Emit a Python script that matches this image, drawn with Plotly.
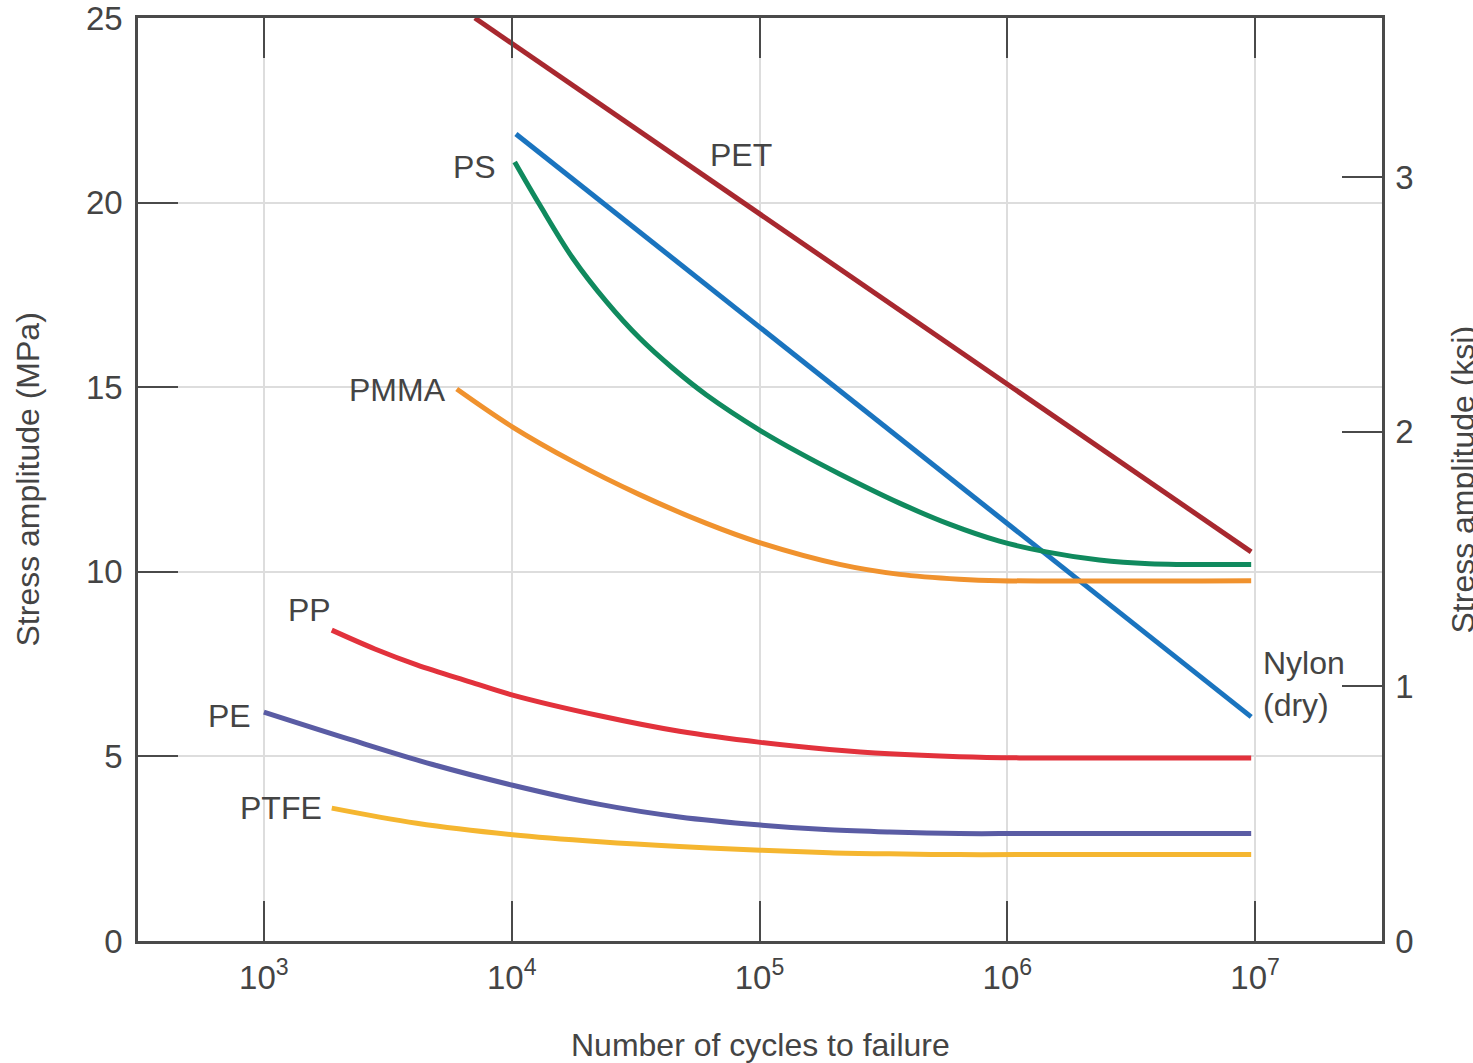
import plotly.graph_objects as go

# ---------------- data (cycles to failure, stress amplitude in MPa) ----------------
pet_n = [7.1e3, 9.64e6]
pet_s = [25.0, 10.54]

nylon_n = [1.04e4, 9.64e6]
nylon_s = [21.86, 6.07]

ps_n = [1.028e4, 1.297e4, 1.762e4, 2.415e4, 3.281e4, 4.457e4, 6.109e4, 1.0e5, 1.449e5,
        2.104e5, 3.673e5, 5.834e5, 9.29e5, 1.435e6, 2.35e6, 3.74e6, 9.64e6]
ps_s = [21.10, 19.94, 18.50, 17.31, 16.33, 15.52, 14.79, 13.84, 13.22,
        12.65, 11.86, 11.29, 10.83, 10.54, 10.32, 10.22, 10.20]

pmma_n = [6.0e3, 1.009e4, 1.762e4, 3.281e4, 6.109e4, 1.0e5, 2.104e5, 3.673e5, 6.4e5,
          9.29e5, 9.64e6]
pmma_s = [14.95, 13.92, 12.99, 12.09, 11.31, 10.79, 10.20, 9.93, 9.80,
          9.76, 9.76]

pp_n = [1.879e3, 2.805e3, 4.14e3, 6.78e3, 1.009e4, 2.265e4, 4.75e4, 1.009e5, 1.914e5,
        3.34e5, 6.4e5, 1.117e6, 9.64e6]
pp_s = [8.42, 7.91, 7.48, 7.02, 6.66, 6.10, 5.68, 5.38, 5.19,
        5.07, 4.99, 4.96, 4.96]

pe_n = [1.0e3, 2.223e3, 4.8e3, 1.009e4, 2.265e4, 4.75e4, 1.009e5, 1.914e5, 3.34e5,
        6.4e5, 1.2e6, 9.64e6]
pe_s = [6.20, 5.46, 4.78, 4.22, 3.70, 3.36, 3.14, 3.01, 2.95,
        2.91, 2.91, 2.91]

ptfe_n = [1.879e3, 4.14e3, 1.009e4, 2.265e4, 4.75e4, 1.009e5, 1.914e5, 3.34e5, 6.4e5,
          1.2e6, 9.64e6]
ptfe_s = [3.60, 3.19, 2.88, 2.69, 2.56, 2.46, 2.39, 2.36, 2.34, 2.34, 2.34]

series_names = ["PET", "Nylon (dry)", "PS", "PMMA", "PP", "PE", "PTFE"]
series_colors = ["#a8282f", "#1a74bf", "#108a5e", "#f0922e", "#e2323c", "#5a5ca4", "#f5b630"]

x_tickvals = [1e3, 1e4, 1e5, 1e6, 1e7]
x_ticktext = ["10<sup>3</sup>", "10<sup>4</sup>", "10<sup>5</sup>", "10<sup>6</sup>", "10<sup>7</sup>"]
y_tickvals = [0, 5, 10, 15, 20, 25]
ksi_tickvals = [0, 1, 2, 3]
MPA_PER_KSI = 6.895
Y_MAX = 25

# label positions (log10 cycles, MPa)
labels = [
    ("PET", 4.925, 21.29, "center"),
    ("PS", 3.851, 20.96, "center"),
    ("PMMA", 3.540, 14.92, "center"),
    ("PP", 3.185, 8.97, "center"),
    ("PE", 2.863, 6.09, "center"),
    ("PTFE", 3.069, 3.60, "center"),
    ("Nylon<br>(dry)", 7.024, 6.96, "left"),
]

FONT = "Liberation Sans, Arial, sans-serif"
TXT = "#444444"
AX = "#4a4a4a"

fig = go.Figure()
all_series = [(pet_n, pet_s), (nylon_n, nylon_s), (ps_n, ps_s), (pmma_n, pmma_s),
              (pp_n, pp_s), (pe_n, pe_s), (ptfe_n, ptfe_s)]
for (xs, ys), name, col in zip(all_series, series_names, series_colors):
    fig.add_trace(go.Scatter(x=xs, y=ys, mode="lines", name=name,
                             line=dict(color=col, width=5, shape="spline", smoothing=1.0),
                             showlegend=False, hoverinfo="skip"))

# invisible trace to anchor the secondary (ksi) axis
fig.add_trace(go.Scatter(x=[1e3], y=[0], yaxis="y2", mode="markers",
                         marker=dict(opacity=0), showlegend=False, hoverinfo="skip"))

for text, lx, ly, al in labels:
    fig.add_annotation(x=lx, y=ly, xref="x", yref="y", text=text, showarrow=False,
                       xanchor=al if al == "left" else "center", align=al,
                       font=dict(family=FONT, size=32, color=TXT))

# axis titles
fig.add_annotation(x=0.5, y=0, xref="paper", yref="paper", yanchor="middle",
                   yshift=-104, text="Number of cycles to failure", showarrow=False,
                   font=dict(family=FONT, size=32, color=TXT))
fig.add_annotation(x=0, y=0.5, xref="paper", yref="paper", xanchor="center",
                   xshift=-111, text="Stress amplitude (MPa)", textangle=-90, showarrow=False,
                   font=dict(family=FONT, size=32, color=TXT))
fig.add_annotation(x=1, y=0.5, xref="paper", yref="paper", xanchor="center",
                   xshift=80, text="Stress amplitude (ksi)", textangle=-90, showarrow=False,
                   font=dict(family=FONT, size=32, color=TXT))

fig.update_layout(
    width=1473, height=1063,
    margin=dict(l=138, r=91, t=18, b=122, autoexpand=False),
    paper_bgcolor="white", plot_bgcolor="white",
    xaxis=dict(type="log", range=[2.492, 7.512], tickvals=x_tickvals, ticktext=x_ticktext,
               ticks="inside", ticklen=40, tickwidth=1.5, tickcolor=AX,
               showline=True, linecolor=AX, linewidth=2.5, mirror="ticks",
               showgrid=True, gridcolor="#dddddd", gridwidth=1.5, zeroline=False,
               tickfont=dict(family=FONT, size=33, color=TXT), ticklabelstandoff=6,
               ticklabeloverflow="allow", automargin=False),
    yaxis=dict(range=[0, Y_MAX], tickvals=y_tickvals,
               ticks="inside", ticklen=40, tickwidth=1.5, tickcolor=AX,
               showline=True, linecolor=AX, linewidth=2.5,
               showgrid=True, gridcolor="#dddddd", gridwidth=1.5, zeroline=False,
               tickfont=dict(family=FONT, size=33, color=TXT), ticklabelstandoff=6,
               ticklabeloverflow="allow", automargin=False),
    yaxis2=dict(overlaying="y", side="right", range=[0, Y_MAX / MPA_PER_KSI],
                tickvals=ksi_tickvals, ticks="inside", ticklen=40, tickwidth=1.5, tickcolor=AX,
                showline=True, linecolor=AX, linewidth=2.5, showgrid=False, zeroline=False,
                tickfont=dict(family=FONT, size=33, color=TXT), ticklabelstandoff=4,
                ticklabeloverflow="allow", automargin=False),
)

fig.write_html("out.html", config={"displayModeBar": False},
               post_script="document.body.style.margin='0';document.body.style.overflow='hidden';")
